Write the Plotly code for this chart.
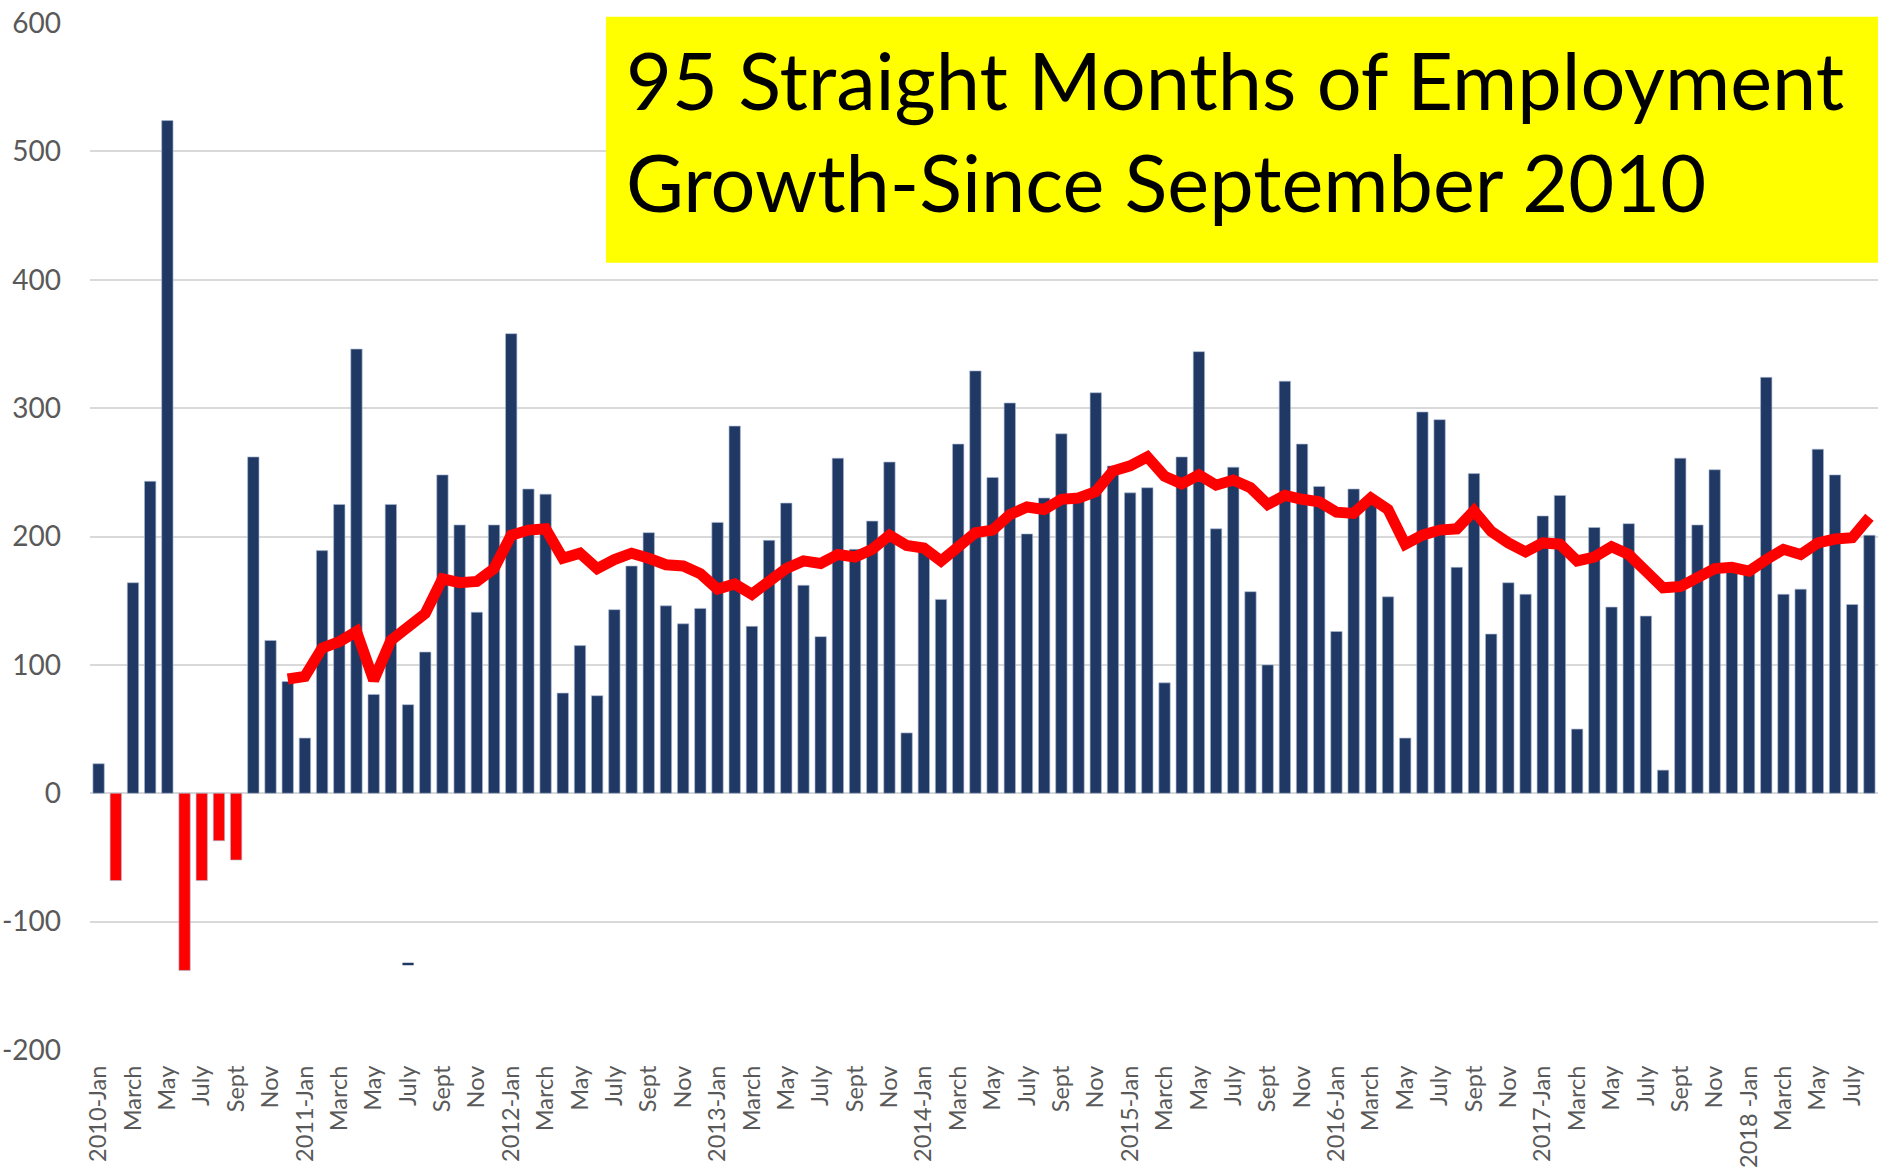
import pandas as pd
import plotly.graph_objects as go

# Monthly categories Jan 2010 .. Aug 2018
months = [d.strftime("%Y-%m") for d in pd.date_range("2010-01-01", "2018-08-01", freq="MS")]

# Monthly employment change (thousands)
jobs = [
    23, -68, 164, 243, 524, -138, -68, -37, -52, 262, 119, 87,          # 2010
    43, 189, 225, 346, 77, 225, 69, 110, 248, 209, 141, 209,            # 2011
    358, 237, 233, 78, 115, 76, 143, 177, 203, 146, 132, 144,           # 2012
    211, 286, 130, 197, 226, 162, 122, 261, 190, 212, 258, 47,          # 2013
    191, 151, 272, 329, 246, 304, 202, 230, 280, 229, 312, 255,         # 2014
    234, 238, 86, 262, 344, 206, 254, 157, 100, 321, 272, 239,          # 2015
    126, 237, 227, 153, 43, 297, 291, 176, 249, 124, 164, 155,          # 2016
    216, 232, 50, 207, 145, 210, 138, 18, 261, 209, 252, 175,           # 2017
    176, 324, 155, 159, 268, 248, 147, 201,                             # 2018
]

# Trailing average line (starts Dec 2010)
avg_line = [None] * 11 + [
    89,                                                                 # 2010 Dec
    91, 113, 118, 126, 88, 119, 130, 140, 167, 164, 165, 175,           # 2011
    201, 205, 206, 183, 187, 175, 182, 187, 183, 178, 177, 171,         # 2012
    159, 163, 155, 165, 175, 181, 179, 186, 184, 190, 201, 193,         # 2013
    191, 181, 192, 203, 205, 217, 223, 221, 229, 230, 235, 251,         # 2014
    255, 262, 247, 241, 248, 240, 244, 238, 225, 232, 229, 227,         # 2015
    219, 218, 230, 221, 194, 201, 205, 206, 220, 204, 195, 188,         # 2016
    195, 194, 181, 184, 192, 186, 173, 160, 161, 168, 175, 176,         # 2017
    173, 182, 190, 186, 195, 198, 199, 215,                             # 2018
]

# Stray mark in the original near July 2011
stray_x = ["2011-07"]
stray_y = [-133]

tick_months = months[::2]
tick_labels = [
    "2010-Jan", "March", "May", "July", "Sept", "Nov",
    "2011-Jan", "March", "May", "July", "Sept", "Nov",
    "2012-Jan", "March", "May", "July", "Sept", "Nov",
    "2013-Jan", "March", "May", "July", "Sept", "Nov",
    "2014-Jan", "March", "May", "July", "Sept", "Nov",
    "2015-Jan", "March", "May", "July", "Sept", "Nov",
    "2016-Jan", "March", "May", "July", "Sept", "Nov",
    "2017-Jan", "March", "May", "July", "Sept", "Nov",
    "2018 -Jan", "March", "May", "July",
]

y_ticks = [-200, -100, 0, 100, 200, 300, 400, 500, 600]
y_tick_labels = ["-200", "-100", "0", "100", "200", "300", "400", "500", "600"]

title_line1 = "95 Straight Months of Employment"
title_line2 = "Growth-Since September 2010"

NAVY = "#203864"
RED = "#FF0000"
GREY_TXT = "#595959"
GRID = "#D9D9D9"
FONT = "Lato"

bar_colors = [RED if v < 0 else NAVY for v in jobs]

fig = go.Figure()
fig.add_trace(go.Bar(
    x=months, y=jobs,
    marker=dict(color=bar_colors, line=dict(color="rgba(170,185,210,0.8)", width=0.8)),
    showlegend=False, hoverinfo="x+y",
))
fig.add_trace(go.Scatter(
    x=months, y=avg_line, mode="lines",
    line=dict(color=RED, width=11), connectgaps=False,
    showlegend=False,
))
fig.add_trace(go.Scatter(
    x=stray_x, y=stray_y, mode="markers",
    marker=dict(symbol="line-ew", size=8, line=dict(color=NAVY, width=2.5)),
    showlegend=False, hoverinfo="skip",
))

W, H = 1878, 1172
L, R, T, B = 90, 0, 23, 122
pw = W - L - R
ph = H - T - B

def px_x(x):
    return (x - L) / pw

def px_y(y):
    return (H - B - y) / ph

fig.add_shape(
    type="rect", xref="paper", yref="paper",
    x0=px_x(606), x1=1.0, y0=px_y(262.7), y1=px_y(16.7),
    fillcolor="#FFFF00", line=dict(width=0), layer="above",
)
for txt, yc in [(title_line1, 79), (title_line2, 181)]:
    fig.add_annotation(
        text=txt, xref="paper", yref="paper",
        x=px_x(624), y=px_y(yc), xanchor="left", yanchor="middle",
        showarrow=False, align="left",
        font=dict(family=FONT, size=79.3, color="#000000"),
    )

fig.update_layout(
    width=W, height=H,
    margin=dict(l=L, r=R, t=T, b=B, pad=0, autoexpand=False),
    paper_bgcolor="white", plot_bgcolor="white",
    bargap=0.34,
    showlegend=False,
    font=dict(family=FONT, color=GREY_TXT),
)
fig.update_xaxes(
    type="category", categoryorder="array", categoryarray=months,
    range=[-0.5, len(months) - 0.5],
    tickmode="array", tickvals=tick_months, ticktext=tick_labels,
    tickangle=-90, tickfont=dict(family=FONT, size=23.5, color=GREY_TXT),
    showgrid=False, showline=False, ticks="", zeroline=False,
    ticklabelstandoff=10, ticklabeloverflow="allow", automargin=False,
)
fig.update_yaxes(
    range=[-200, 600],
    tickmode="array", tickvals=y_ticks, ticktext=y_tick_labels,
    tickfont=dict(family=FONT, size=28, color=GREY_TXT),
    showgrid=True, gridcolor=GRID, gridwidth=1.5,
    zeroline=True, zerolinecolor=GRID, zerolinewidth=1.5,
    showline=False, ticks="", ticklabelstandoff=28,
    ticklabeloverflow="allow", automargin=False,
)

fig.write_html(
    "out.html",
    config={"displayModeBar": False},
    post_script="document.body.style.margin='0';document.body.style.padding='0';",
)
